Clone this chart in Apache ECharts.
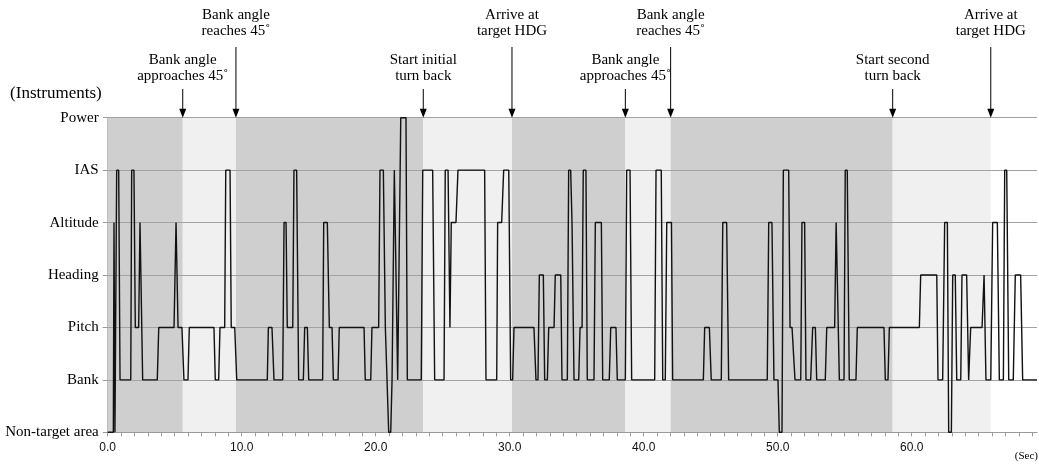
<!DOCTYPE html>
<html>
<head>
<meta charset="utf-8">
<script src="https://cdn.jsdelivr.net/npm/echarts@6/dist/echarts.min.js"></script>
<style>
html,body{margin:0;padding:0;background:#fff;}
#chart{width:1039px;height:466px;}
</style>
</head>
<body>
<div id="chart"></div>
<script>
// ---- data ----
const instruments = ['Non-target area', 'Bank', 'Pitch', 'Heading', 'Altitude', 'IAS', 'Power'];
const xTickLabels = ['0.0', '10.0', '20.0', '30.0', '40.0', '50.0', '60.0'];
const timeMax = 69.35;

const times = [
  0.00, 0.42, 0.47, 0.54, 0.67, 0.82, 0.92, 1.72, 1.79, 1.96, 2.06, 2.31, 2.41, 2.46, 2.61, 3.70, 3.81, 4.95, 5.10, 5.25,
  5.54, 5.69, 5.99, 6.09, 7.93, 8.03, 8.28, 8.38, 8.73, 8.81, 9.13, 9.22, 9.48, 9.63, 11.91, 11.99, 12.26, 12.41, 13.06, 13.16,
  13.31, 13.40, 13.81, 13.90, 14.10, 14.25, 14.60, 14.70, 14.90, 15.00, 16.04, 16.12, 16.39, 16.54, 16.74, 16.84, 17.19, 17.28, 19.13, 19.22,
  19.63, 19.72, 20.22, 20.32, 20.57, 20.72, 20.82, 20.97, 21.12, 21.22, 21.31, 21.39, 21.44, 21.64, 21.76, 21.87, 22.26, 22.36, 23.40, 23.51,
  24.25, 24.40, 25.10, 25.19, 25.40, 25.54, 25.64, 25.99, 26.14, 28.13, 28.23, 29.03, 29.10, 29.40, 29.55, 29.93, 30.07, 30.22, 30.32, 31.81,
  31.96, 32.11, 32.21, 32.51, 32.61, 32.81, 32.91, 33.31, 33.40, 33.81, 33.90, 34.30, 34.40, 34.55, 34.65, 34.80, 35.15, 35.25, 35.40, 35.49,
  35.69, 35.79, 36.29, 36.39, 36.84, 36.94, 37.43, 37.54, 37.93, 38.03, 38.63, 38.73, 38.98, 39.10, 40.82, 40.92, 41.31, 41.42, 41.61, 41.72,
  42.07, 42.16, 44.45, 44.55, 44.90, 45.04, 45.79, 45.90, 46.19, 46.34, 49.22, 49.33, 49.57, 49.72, 50.02, 50.12, 50.32, 50.42, 50.82, 50.92,
  51.07, 51.29, 51.72, 51.81, 52.01, 52.11, 52.46, 52.61, 52.81, 52.91, 53.55, 53.66, 54.25, 54.36, 54.50, 54.60, 54.95, 55.04, 55.19, 55.34,
  55.84, 55.94, 57.93, 58.03, 58.23, 58.33, 60.57, 60.67, 61.87, 61.96, 62.31, 62.46, 62.66, 62.76, 62.96, 63.06, 63.25, 63.36, 63.66, 63.75,
  64.10, 64.25, 64.40, 65.25, 65.40, 65.54, 65.90, 66.04, 66.39, 66.54, 66.84, 66.94, 67.09, 67.24, 67.58, 67.73, 68.13, 68.28, 69.35
];

const focus = [
  'Non-target area', 'Non-target area', 'Altitude', 'Non-target area', 'IAS', 'IAS', 'Bank', 'Bank', 'IAS', 'IAS', 'Pitch', 'Pitch', 'Altitude', 'Altitude', 'Bank', 'Bank', 'Pitch', 'Pitch', 'Altitude', 'Pitch',
  'Pitch', 'Bank', 'Bank', 'Pitch', 'Pitch', 'Bank', 'Bank', 'Pitch', 'Pitch', 'IAS', 'IAS', 'Pitch', 'Pitch', 'Bank', 'Bank', 'Pitch', 'Pitch', 'Bank', 'Bank', 'Altitude',
  'Altitude', 'Pitch', 'Pitch', 'IAS', 'IAS', 'Bank', 'Bank', 'Pitch', 'Pitch', 'Bank', 'Bank', 'Altitude', 'Altitude', 'Pitch', 'Pitch', 'Bank', 'Bank', 'Pitch', 'Pitch', 'Bank',
  'Bank', 'Pitch', 'Pitch', 'IAS', 'IAS', 'Pitch', 'Pitch', 'Non-target area', 'Non-target area', 'Bank', 'Bank', 'IAS', 'IAS', 'Bank', 'Bank', 'Power', 'Power', 'Bank', 'Bank', 'IAS',
  'IAS', 'Bank', 'Bank', 'IAS', 'IAS', 'Pitch', 'Altitude', 'Altitude', 'IAS', 'IAS', 'Bank', 'Bank', 'Altitude', 'Altitude', 'IAS', 'IAS', 'Bank', 'Bank', 'Pitch', 'Pitch',
  'Bank', 'Bank', 'Heading', 'Heading', 'Bank', 'Bank', 'Pitch', 'Pitch', 'Heading', 'Heading', 'Bank', 'Bank', 'IAS', 'IAS', 'Altitude', 'Bank', 'Bank', 'Pitch', 'Pitch', 'IAS',
  'IAS', 'Bank', 'Bank', 'Altitude', 'Altitude', 'Bank', 'Bank', 'Pitch', 'Pitch', 'Bank', 'Bank', 'IAS', 'IAS', 'Bank', 'Bank', 'IAS', 'IAS', 'Bank', 'Bank', 'Altitude',
  'Altitude', 'Bank', 'Bank', 'Pitch', 'Pitch', 'Bank', 'Bank', 'Altitude', 'Altitude', 'Bank', 'Bank', 'Altitude', 'Altitude', 'Bank', 'Bank', 'Non-target area', 'Non-target area', 'IAS', 'IAS', 'Pitch',
  'Pitch', 'Bank', 'Bank', 'Altitude', 'Altitude', 'Bank', 'Bank', 'Pitch', 'Pitch', 'Bank', 'Bank', 'Pitch', 'Pitch', 'Altitude', 'Altitude', 'Bank', 'Bank', 'IAS', 'IAS', 'Bank',
  'Bank', 'Pitch', 'Pitch', 'Bank', 'Bank', 'Pitch', 'Pitch', 'Heading', 'Heading', 'Bank', 'Bank', 'Altitude', 'Altitude', 'Non-target area', 'Non-target area', 'Heading', 'Heading', 'Bank', 'Bank', 'Heading',
  'Heading', 'Bank', 'Pitch', 'Pitch', 'Heading', 'Bank', 'Bank', 'Altitude', 'Altitude', 'Bank', 'Bank', 'IAS', 'IAS', 'Bank', 'Bank', 'Heading', 'Heading', 'Bank', 'Bank'
];

const eventTimes = [5.60, 9.57, 23.55, 30.17, 38.63, 42.01, 58.58, 65.90];
const eventLabels = [
  'Bank angle\napproaches 45˚',
  'Bank angle\nreaches 45˚',
  'Start initial\nturn back',
  'Arrive at\ntarget HDG',
  'Bank angle\napproaches 45˚',
  'Bank angle\nreaches 45˚',
  'Start second\nturn back',
  'Arrive at\ntarget HDG'
];

// ---- build ----
const lineData = times.map((t, i) => [t, instruments.indexOf(focus[i])]);
const bounds = [0].concat(eventTimes);
const areas = [];
for (let i = 0; i < bounds.length - 1; i++) {
  areas.push([
    { xAxis: bounds[i], itemStyle: { color: i % 2 === 0 ? '#cfcfcf' : '#f0f0f0' } },
    { xAxis: bounds[i + 1] }
  ]);
}

const serif = '"Liberation Serif", "Times New Roman", serif';
const chart = echarts.init(document.getElementById('chart'), null, { renderer: 'canvas' });

chart.setOption({
  animation: false,
  backgroundColor: '#ffffff',
  grid: { left: 107.7, right: 2, top: 117.7, bottom: 33.7, containLabel: false },
  xAxis: {
    type: 'value',
    min: 0,
    max: timeMax,
    interval: 1,
    axisLine: { show: true, lineStyle: { color: '#9a9a9a', width: 1 } },
    axisTick: { show: true, length: 4, lineStyle: { color: '#9a9a9a' } },
    splitLine: { show: false },
    axisLabel: {
      showMaxLabel: false,
      margin: 9,
      color: '#111',
      fontFamily: '"Liberation Sans", Arial, sans-serif',
      fontSize: 12,
      formatter: function (v) {
        const r = Math.round(v);
        if (Math.abs(v - r) < 1e-6 && r % 10 === 0) {
          const idx = r / 10;
          return xTickLabels[idx] || '';
        }
        return '';
      }
    }
  },
  yAxis: {
    type: 'category',
    data: instruments,
    boundaryGap: false,
    name: '(Instruments)',
    nameLocation: 'end',
    nameGap: 24,
    nameTextStyle: { fontFamily: serif, fontSize: 17, color: '#000', align: 'right', verticalAlign: 'middle', padding: [0, 6, 0, 0] },
    axisLine: { show: true, lineStyle: { color: '#bdbdbd' } },
    axisTick: { show: true, length: 5, alignWithLabel: true, lineStyle: { color: '#9a9a9a' } },
    splitLine: { show: true, lineStyle: { color: '#a3a3a3', width: 1 } },
    axisLabel: { margin: 9, color: '#000', fontFamily: serif, fontSize: 15, interval: 0 }
  },
  series: [
    {
      type: 'line',
      data: [],
      silent: true,
      markArea: { silent: true, z: -1, data: areas }
    },
    {
      type: 'line',
      data: lineData,
      symbol: 'none',
      clip: false,
      z: 5,
      lineStyle: { color: '#111', width: 1.4 }
    }
  ]
});

// annotations with arrows
const topY = chart.convertToPixel({ yAxisIndex: 0 }, instruments.length - 1);
const graphics = [];
eventTimes.forEach((t, i) => {
  const x = chart.convertToPixel({ xAxisIndex: 0 }, t);
  const high = i % 2 === 1;
  const textTop = high ? 7 : 52;
  const lineTop = high ? 47 : 89;
  graphics.push({
    type: 'text',
    style: {
      text: eventLabels[i], x: x, y: textTop, align: 'center', verticalAlign: 'top',
      font: '15px ' + serif, lineHeight: 16, fill: '#000'
    }
  });
  graphics.push({
    type: 'line',
    shape: { x1: x, y1: lineTop, x2: x, y2: topY - 8 },
    style: { stroke: '#000', lineWidth: 1 }
  });
  graphics.push({
    type: 'polygon',
    shape: { points: [[x - 3.5, topY - 9], [x + 3.5, topY - 9], [x, topY]] },
    style: { fill: '#000' }
  });
});
graphics.push({
  type: 'text',
  right: 1,
  top: 451,
  style: { text: '(Sec)', font: '11px ' + serif, fill: '#000' }
});
chart.setOption({ graphic: graphics });
</script>
</body>
</html>
